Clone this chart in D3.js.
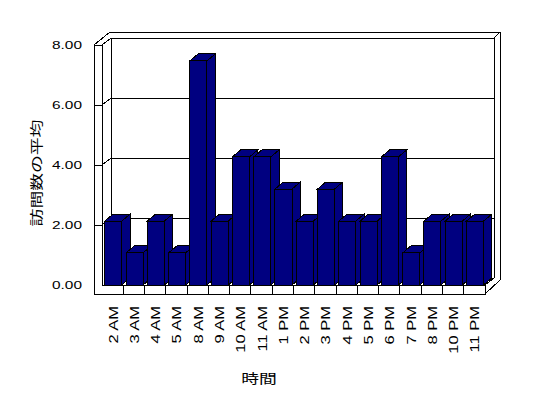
<!DOCTYPE html>
<html>
<head>
<meta charset="utf-8">
<script src="https://cdn.jsdelivr.net/npm/d3@7"></script>
<style>
  body { margin: 0; background: #fff; }
  svg { display: block; }
</style>
</head>
<body>
<div id="chart"></div>
<script>
// Chart data
const hours = ["2 AM", "3 AM", "4 AM", "5 AM", "8 AM", "9 AM", "10 AM", "11 AM", "1 PM",
  "2 PM", "3 PM", "4 PM", "5 PM", "6 PM", "7 PM", "8 PM", "10 PM", "11 PM"];
const visits = [2.13, 1.07, 2.13, 1.07, 7.47, 2.13, 4.27, 4.27, 3.2,
  2.13, 3.2, 2.13, 2.13, 4.27, 1.07, 2.13, 2.13, 2.13];
const yTicks = [0, 2, 4, 6, 8];
const xTitle = "時間";
const yTitle = "訪問数の平均";

const width = 548;
const height = 398;

// Depth offsets for the pseudo 3D look
const wallDx = 9, wallDy = -7;
const barDx = 8.3, barDy = -7;

const svg = d3
  .select("#chart")
  .append("svg")
  .attr("width", width)
  .attr("height", height)
  .attr("shape-rendering", "crispEdges");

// Scales on the front plane
const xScale = d3.scaleBand().domain(hours).range([102, 485]).padding(0);
const yScale = d3.scaleLinear().domain([0, 8]).range([285, 45]);

const y0 = yScale(0);
const yTop = yScale(8);
const xL = xScale.range()[0];
const xR = xScale.range()[1];

const line = (pts) => "M" + pts.map((p) => p.join(",")).join("L");
const lines = svg.append("g").attr("fill", "none").attr("stroke", "#000").attr("stroke-width", 1);

// Back wall gridlines and left wall diagonals
lines
  .selectAll(".grid")
  .data(yTicks.slice(1))
  .enter()
  .append("path")
  .attr("class", "grid")
  .attr("d", (d) =>
    line([
      [xL, yScale(d)],
      [xL + wallDx, yScale(d) + wallDy],
      [xR + wallDx, yScale(d) + wallDy],
    ])
  );

// Walls and floor outline
lines.append("path").attr("d", line([[xL + wallDx, yTop + wallDy], [xL + wallDx, y0 + wallDy], [xR + wallDx, y0 + wallDy]]));
lines.append("path").attr("d", line([[xR + wallDx, yTop + wallDy], [xR + wallDx, y0 + wallDy], [xR, y0]]));
lines.append("path").attr("d", line([[94, yTop], [110, 32], [500, 32], [500, 280], [xR, 294]]));
lines.append("path").attr("d", line([[xR + wallDx, yTop + wallDy], [500, 32]]));

// Front faces of left wall and floor
lines
  .append("path")
  .attr("fill", "#fff")
  .attr("d", line([[94, yTop], [xL, yTop], [xL, y0], [xR, y0], [xR, 294], [94, 294]]) + "Z");

// Ticks on the wall front face
lines
  .selectAll(".tick")
  .data(yTicks.slice(1, 4))
  .enter()
  .append("path")
  .attr("d", (d) => line([[94, yScale(d)], [xL, yScale(d)]]));

// Category dividers on the floor front face
lines
  .selectAll(".divider")
  .data(hours.slice(1))
  .enter()
  .append("path")
  .attr("d", (d) => line([[xScale(d), y0], [xScale(d), 294]]));

// Bars: side, top and front face, drawn left to right
const barW = xScale.bandwidth() * 0.8;
const barOff = xScale.bandwidth() * 0.13;
const bars = svg
  .append("g")
  .selectAll(".bar")
  .data(hours.map((h, i) => ({ hour: h, value: visits[i] })))
  .enter()
  .append("g")
  .attr("class", "bar")
  .attr("fill", "#000080")
  .attr("stroke", "#000")
  .attr("stroke-width", 1);

bars
  .append("path")
  .attr("d", (d) => {
    const x = xScale(d.hour) + barOff + barW;
    const y = yScale(d.value);
    return line([[x, y], [x + barDx, y + barDy], [x + barDx, y0 + barDy], [x, y0]]) + "Z";
  });

bars
  .append("path")
  .attr("d", (d) => {
    const x = xScale(d.hour) + barOff;
    const y = yScale(d.value);
    return line([[x, y], [x + barDx, y + barDy], [x + barW + barDx, y + barDy], [x + barW, y]]) + "Z";
  });

bars
  .append("rect")
  .attr("x", (d) => xScale(d.hour) + barOff)
  .attr("y", (d) => yScale(d.value))
  .attr("width", barW)
  .attr("height", (d) => y0 - yScale(d.value));

// Y axis tick labels
svg
  .append("g")
  .selectAll("text")
  .data(yTicks)
  .enter()
  .append("text")
  .attr("transform", (d) => `translate(82,${yScale(d) + 4}) scale(1.4,1)`)
  .attr("text-anchor", "end")
  .attr("font-family", "'Liberation Sans', Arial, sans-serif")
  .attr("font-size", 11)
  .text((d) => d3.format(".2f")(d));

// X axis tick labels, rotated
svg
  .append("g")
  .selectAll("text")
  .data(hours)
  .enter()
  .append("text")
  .attr("transform", (d) => `translate(${xScale(d) + xScale.bandwidth() / 2 + 5},306) rotate(-90) scale(1.32,1)`)
  .attr("text-anchor", "end")
  .attr("font-family", "'Liberation Sans', Arial, sans-serif")
  .attr("font-size", 12.5)
  .text((d) => d);

// Axis titles
svg
  .append("text")
  .attr("transform", "translate(259,377) scale(1.37,1)")
  .attr("text-anchor", "middle")
  .attr("dominant-baseline", "central")
  .attr("font-family", "'Noto Sans CJK JP', sans-serif")
  .attr("font-size", 13)
  .text(xTitle);

svg
  .append("text")
  .attr("transform", "translate(35,173) rotate(-90) scale(1.37,1)")
  .attr("text-anchor", "middle")
  .attr("dominant-baseline", "central")
  .attr("font-family", "'Noto Sans CJK JP', sans-serif")
  .attr("font-size", 13)
  .text(yTitle);
</script>
</body>
</html>
